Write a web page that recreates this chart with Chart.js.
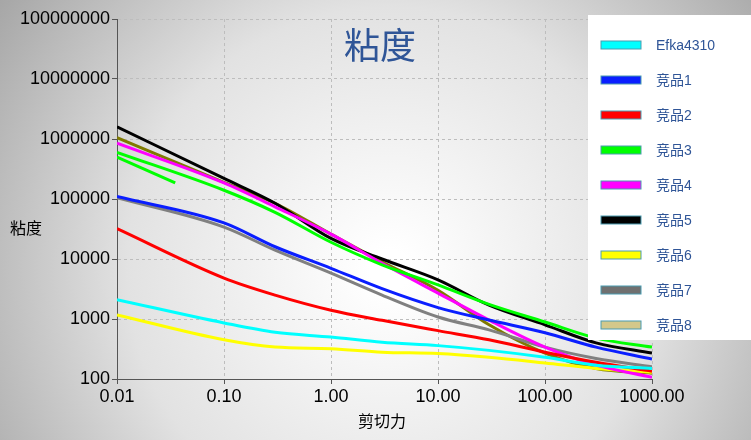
<!DOCTYPE html>
<html>
<head>
<meta charset="utf-8">
<script src="https://cdn.jsdelivr.net/npm/chart.js@4/dist/chart.umd.min.js"></script>
<style>
  body { margin: 0; background: #fff; }
  #wrap { width: 751px; height: 440px; position: relative; }
</style>
</head>
<body>
<div id="wrap"><canvas id="c" width="751" height="440"></canvas></div>
<script>
// shear rate sample points
const shear = [0.01, 0.1, 0.3, 1, 3, 10, 30, 100, 300, 1000];

const efka4310 = [2100, 860, 600, 500, 410, 360, 300, 230, 170, 150];
const comp1 = [110000, 40000, 16000, 7000, 3200, 1550, 960, 590, 340, 215];
const comp2 = [32000, 4800, 2500, 1400, 950, 640, 450, 280, 190, 135];
const comp3 = [600000, 140000, 60000, 19000, 8000, 3700, 1750, 890, 480, 340];
const comp3Short = [500000, 185000];   // short extra green run at low shear
const shearShort = [0.01, 0.035];
const comp4 = [850000, 185000, 74000, 26000, 8500, 2700, 960, 340, 170, 107];
const comp5 = [1600000, 220000, 85000, 22000, 10000, 4500, 1700, 800, 400, 270];
const comp6 = [1170, 450, 340, 320, 280, 265, 230, 185, 150, 130];
const comp7 = [105000, 34000, 14000, 5800, 2500, 1080, 660, 340, 220, 160];
const comp8 = [1050000, 190000, 85000, 26000, 9000, 3000, 800, 270, 150, 125];

const seriesNames = ['Efka4310', '竞品1', '竞品2', '竞品3', '竞品4', '竞品5', '竞品6', '竞品7', '竞品8'];
const seriesData = [efka4310, comp1, comp2, comp3, comp4, comp5, comp6, comp7, comp8];
const lineColors = ['#00ffff', '#0a1eff', '#ff0000', '#00ff00', '#ff00ff', '#000000', '#ffff00', '#808080', '#7f7a00'];
const swatchColors = ['#00ffff', '#0a1eff', '#ff0000', '#00ff00', '#ff00ff', '#000000', '#ffff00', '#707070', '#d4c88a'];

const xTicks = [0.01, 0.1, 1, 10, 100, 1000];
const yTicks = [100, 1000, 10000, 100000, 1000000, 10000000, 100000000];

const toPts = (xs, ys) => ys.map((y, i) => ({ x: xs[i], y }));

const datasets = seriesData.map((d, i) => ({
    label: seriesNames[i],
    data: toPts(shear, d),
    borderColor: lineColors[i],
    borderWidth: 3,
    pointRadius: 0,
    cubicInterpolationMode: 'monotone'
}));
datasets.push({
    label: '',
    data: toPts(shearShort, comp3Short),
    borderColor: '#00ff00',
    borderWidth: 3,
    pointRadius: 0
});

const backdrop = {
    id: 'backdrop',
    beforeDraw(chart) {
        const ctx = chart.ctx;
        const g = ctx.createRadialGradient(390, 270, 20, 390, 270, 560);
        g.addColorStop(0, '#ffffff');
        g.addColorStop(0.45, '#e2e2e2');
        g.addColorStop(1, '#8e8e8e');
        ctx.save();
        ctx.fillStyle = g;
        ctx.fillRect(0, 0, chart.width, chart.height);
        ctx.restore();
    }
};

const decorations = {
    id: 'decorations',
    afterDraw(chart) {
        const ctx = chart.ctx;
        ctx.save();
        // title
        ctx.fillStyle = '#2f5597';
        ctx.font = '36px "Noto Sans CJK SC"';
        ctx.textAlign = 'center';
        ctx.textBaseline = 'middle';
        ctx.fillText('粘度', 380, 45);
        // axis titles
        ctx.fillStyle = '#000';
        ctx.font = '16px "Noto Sans CJK SC"';
        ctx.fillText('粘度', 26, 228);
        ctx.fillText('剪切力', 382, 421);
        // legend box
        ctx.fillStyle = '#ffffff';
        ctx.fillRect(588, 15, 163, 325);
        ctx.textAlign = 'left';
        ctx.font = '14px "Liberation Sans", "Noto Sans CJK SC"';
        seriesNames.forEach((name, i) => {
            const y = 45 + i * 35;
            ctx.fillStyle = swatchColors[i];
            ctx.fillRect(601, y - 4, 40, 8);
            ctx.strokeStyle = '#4b9bb0';
            ctx.lineWidth = 1;
            ctx.strokeRect(601, y - 4, 40, 8);
            ctx.fillStyle = '#2f5597';
            ctx.fillText(name, 656, y + 1);
        });
        ctx.restore();
    }
};

new Chart(document.getElementById('c'), {
    type: 'line',
    data: { datasets },
    options: {
        responsive: false,
        animation: false,
        layout: { padding: { top: 19, right: 99, left: 0, bottom: 0 } },
        plugins: { legend: { display: false }, tooltip: { enabled: false } },
        scales: {
            x: {
                type: 'logarithmic',
                min: 0.01, max: 1000,
                afterBuildTicks: s => { s.ticks = xTicks.map(v => ({ value: v })); },
                afterFit: s => { s.height = 61; },
                border: { color: '#555', width: 1, dash: [3, 3] },
                grid: { color: '#bdbdbd', tickLength: 5, tickColor: '#555' },
                ticks: {
                    color: '#000',
                    font: { family: 'Liberation Sans', size: 18 },
                    maxRotation: 0,
                    padding: 2,
                    callback: v => Number(v).toFixed(2)
                }
            },
            y: {
                type: 'logarithmic',
                min: 100, max: 100000000,
                afterBuildTicks: s => { s.ticks = yTicks.map(v => ({ value: v })); },
                afterFit: s => { s.width = 117; },
                border: { color: '#555', width: 1, dash: [3, 3] },
                grid: { color: '#bdbdbd', tickLength: 5, tickColor: '#555' },
                ticks: {
                    color: '#000',
                    font: { family: 'Liberation Sans', size: 18 },
                    padding: 2,
                    callback: v => String(v)
                }
            }
        }
    },
    plugins: [backdrop, decorations]
});
</script>
</body>
</html>
